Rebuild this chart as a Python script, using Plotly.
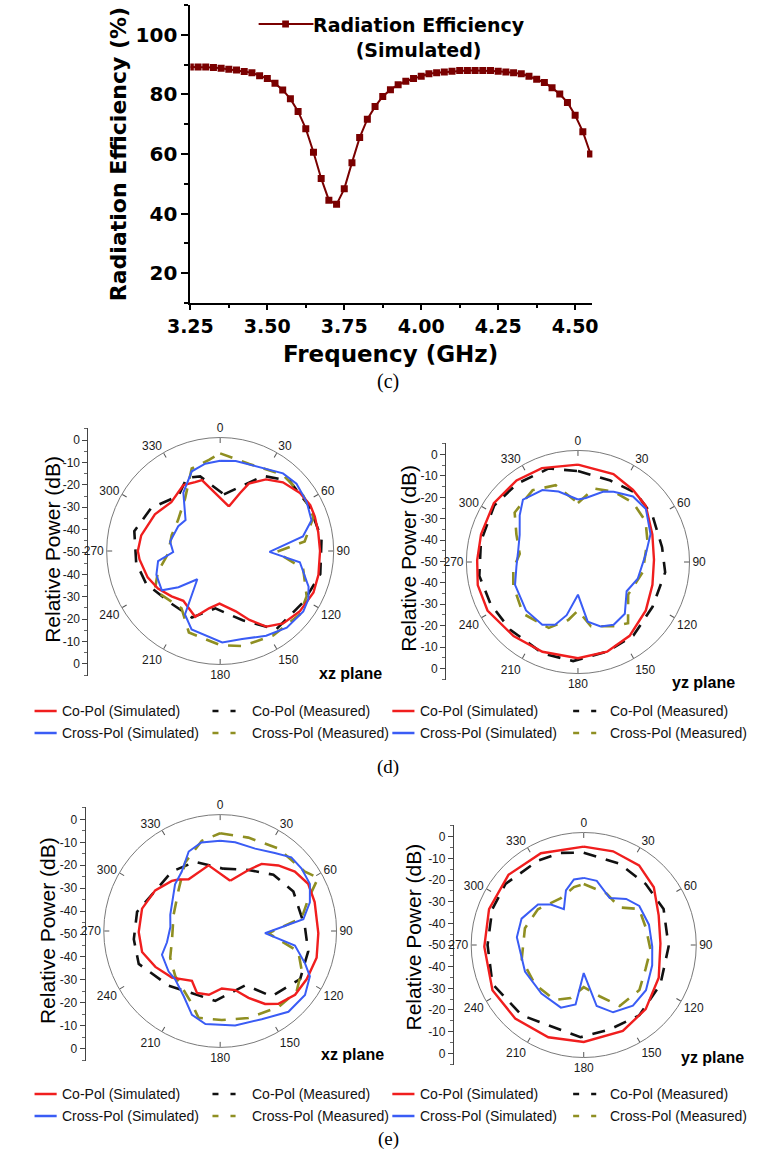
import plotly.graph_objects as go

W, H = 759, 1158

# ---------------- (c) Radiation efficiency ----------------
freq_ghz = [3.25, 3.275, 3.30, 3.325, 3.35, 3.375, 3.40, 3.425, 3.45, 3.475,
            3.50, 3.525, 3.55, 3.575, 3.60, 3.625, 3.65, 3.675, 3.70, 3.725,
            3.75, 3.775, 3.80, 3.825, 3.85, 3.875, 3.90, 3.925, 3.95, 3.975,
            4.00, 4.025, 4.05, 4.075, 4.10, 4.125, 4.15, 4.175, 4.20, 4.225,
            4.25, 4.275, 4.30, 4.325, 4.35, 4.375, 4.40, 4.425, 4.45, 4.475,
            4.50, 4.525, 4.55]
efficiency_pct = [89.2, 89.2, 89.2, 89.0, 88.8, 88.4, 88.2, 87.7, 87.3, 86.3,
                  85.3, 83.7, 81.5, 78.5, 74.3, 68.5, 60.6, 51.8, 44.5, 43.1,
                  48.3, 57.1, 65.5, 71.7, 75.9, 79.3, 81.6, 83.2, 84.4, 85.3,
                  86.1, 86.9, 87.3, 87.5, 87.8, 88.0, 88.0, 88.0, 88.0, 88.0,
                  87.8, 87.5, 87.3, 86.9, 86.1, 85.1, 84.0, 82.2, 80.1, 77.3,
                  73.0, 67.5, 60.0]
x_ticks = [3.25, 3.50, 3.75, 4.00, 4.25, 4.50]
x_ticklabels = ["3.25", "3.50", "3.75", "4.00", "4.25", "4.50"]
y_ticks = [20, 40, 60, 80, 100]

# ---------------- polar patterns (angle deg, dB) ----------------
angle_ticks = [0, 30, 60, 90, 120, 150, 180, 210, 240, 270, 300, 330]
db_scale_pos = [50, 40, 30, 20, 10, 0, -10, -20, -30, -40, -50]
db_scale_lbl = ["0", "-10", "-20", "-30", "-40", "-50", "-40", "-30", "-20", "-10", "0"]

# (d) xz plane
d_xz_cosim_th = [11, 19, 23, 32.6, 42.4, 54, 63, 70, 79, 90, 103.6, 114, 127, 139, 148.6, 157, 165.5,
                 180.7, 191, 200.8, 216.5, 227, 238.9, 250, 264, 270, 281.2, 299.4, 315, 330.8, 340, 345.6]
d_xz_cosim_db = [-28.0, -20.3, -14.5, -8.8, -4.9, -2.2, -1.0, -1.2, -1.6, -1.6, -1.0, -0.5, -1.6, -3.5, -7.1, -13.7, -19.8,
                 -24.5, -21.7, -15.9, -20.0, -17.8, -14.8, -12.6, -10.7, -10.1, -11.0, -13.7, -16.5, -13.4, -14.5, -14.5]
d_xz_comeas_th = [3.8, 30, 44.7, 63.6, 83, 103, 121.6, 144.5, 162, 184.8, 203, 223, 246, 262, 283, 302, 323, 335.5, 345]
d_xz_comeas_db = [-22.5, -8.0, -2.2, -1.6, -0.5, -0.2, -2.7, -3.3, -14.7, -22.1, -15.0, -15.2, -10.8, -8.9, -7.3, -10.6, -16.5, -11.0, -12.6]
d_xz_xsim_th = [0, 9.8, 39, 48.6, 60.4, 71.4, 80, 91, 98, 112, 118.6, 126, 139, 151.5, 166, 178.7, 200, 209, 219, 229,
                236, 249.5, 260.7, 268.7, 280.7, 300.6, 311.8, 327.7, 340.4, 350.3]
d_xz_xsim_db = [-6.3, -5.7, -1.6, -0.7, -1.8, -3.3, -9.3, -26.1, -11.0, -3.8, -1.3, -0.2, -0.8, -3.3, -6.0, -5.7, -9.5, -14.8, -32.4, -23.2,
                -15.9, -17.0, -19.5, -27.2, -25.3, -26.4, -27.5, -16.6, -9.0, -7.1]
d_xz_xmeas_th = [0, 18.5, 39.5, 56.4, 70, 83.6, 91, 102, 117.6, 128.5, 148, 167, 180, 201, 214, 239, 251.5, 267, 288, 306, 326, 341, 353]
d_xz_xmeas_db = [-2.7, -5.5, -2.2, -1.6, -1.9, -8.8, -22.8, -8.9, -2.7, -0.7, -1.7, -2.7, -4.4, -7.7, -16.5, -13.0, -18.2, -24.7, -25.3, -24.7, -19.5, -7.7, -5.5]

# (d) yz plane
d_yz_cosim_th = [0, 22, 37.4, 50.4, 69.7, 88.3, 107, 125.5, 145, 162, 180, 201.6, 221, 241.8, 257, 271, 286, 305, 323, 339]
d_yz_cosim_db = [-2.0, -3.3, -5.3, -6.6, -10.9, -12.5, -11.6, -8.9, -5.6, -3.5, -2.6, -2.4, -1.6, 0.6, 0.7, -0.3, -0.3, 0.6, 0.3, -0.4]
d_yz_comeas_th = [0, 21.7, 40, 58, 80, 96.8, 121, 143, 162, 182.8, 201, 225, 244, 262, 282, 304, 322, 342.7]
d_yz_comeas_db = [-5.2, -6.8, -5.6, -6.7, -7.9, -6.7, -7.1, -4.6, -3.5, -1.1, -1.7, -2.8, -2.2, -0.9, -1.1, -0.2, -1.1, -1.7]
d_yz_xsim_th = [0, 7, 20, 27, 40, 52, 69, 82.8, 105.6, 121, 137.8, 150.4, 160.6, 170.7, 180, 192, 200, 209.6, 227, 250,
                266, 281, 295, 308.7, 318.6, 333.7, 344.6]
d_yz_xsim_db = [-19.2, -18.2, -13.0, -11.1, -7.8, -7.5, -11.7, -16.2, -19.4, -22.0, -15.6, -14.4, -16.3, -20.2, -33.9, -23.2, -17.1, -14.4, -15.0, -17.0,
                -19.6, -20.0, -18.3, -13.2, -9.0, -10.4, -14.0]
d_yz_xmeas_th = [0, 12.4, 27, 42.9, 59, 73, 99, 123, 140.7, 151, 168.6, 180, 189.5, 203.9, 226.8, 250, 263.6, 278, 294, 308, 327.8, 343.8]
d_yz_xmeas_db = [-20.9, -12.9, -11.1, -10.1, -11.1, -14.2, -17.7, -20.5, -11.0, -13.8, -17.7, -26.1, -21.0, -14.5, -12.8, -16.1, -17.9, -21.0, -16.8, -10.4, -8.1, -10.6]

# (e) xz plane
e_xz_cosim_th = [11.3, 24.9, 31.7, 41.6, 51.5, 61.8, 73, 91.3, 105.5, 119, 130.4, 141.4, 148.4, 157, 165.8, 178.4, 190, 200.5,
                 209.5, 226, 241, 255, 269.3, 286, 302, 316, 321, 328.6, 350]
e_xz_cosim_db = [-25.8, -18.2, -12.7, -8.6, -4.9, -2.8, -3.3, -3.6, -2.7, -3.2, -3.5, -5.9, -9.5, -15.7, -21.2, -22.8, -19.4, -18.7,
                 -22.9, -18.3, -15.0, -11.8, -11.5, -11.6, -13.8, -17.1, -18.7, -21.4, -18.5]
e_xz_comeas_th = [2.8, 24.9, 43.4, 61.7, 87.3, 103, 121, 141.7, 155, 184, 223.4, 248, 264.5, 283, 321, 340]
e_xz_comeas_db = [-20.5, -18.2, -13.4, -10.7, -9.9, -7.3, -5.9, -10.7, -21.7, -16.9, -14.5, -8.5, -9.0, -9.7, -13.8, -15.2]
e_xz_xsim_th = [0, 9.6, 23, 35, 44, 52.5, 62.3, 72.3, 82, 92.8, 101, 111, 116.8, 127, 139.8, 154.8, 171, 189, 198.6, 209,
                223, 231.8, 247.8, 258, 274.5, 288, 316, 327, 338.4, 348]
e_xz_xsim_db = [-7.4, -7.5, -7.7, -5.0, -1.6, -1.5, -2.1, -5.5, -10.3, -28.8, -14.0, -7.0, -2.5, 0.2, 0.0, -3.9, -4.8, -5.5, -8.2, -14.6,
                -18.8, -19.0, -20.3, -24.3, -26.4, -25.2, -19.3, -16.6, -9.6, -7.2]
e_xz_xmeas_th = [0, 16.8, 35, 55, 61.5, 70, 81, 92.6, 104.8, 115.6, 128.4, 142.6, 162, 179, 194, 201, 224.8, 241.8, 260, 289, 314.6, 333, 348.5]
e_xz_xmeas_db = [-3.8, -3.9, -2.3, -1.1, 2.7, -5.7, -11.0, -27.2, -11.8, -7.3, -3.9, -4.7, -6.8, -7.9, -7.7, -13.0, -19.9, -23.2, -26.9, -26.7, -22.4, -13.6, -6.5]

# (e) yz plane
e_yz_cosim_th = [0, 17.4, 34.8, 50.5, 68.4, 88.8, 113.6, 136, 155.5, 180, 201, 223, 243.6, 269, 290.8, 313, 335]
e_yz_cosim_db = [-1.9, -2.0, -2.6, -5.6, -10.6, -12.5, -10.0, -6.4, -3.9, -2.6, -1.7, -0.9, -0.2, -1.4, -0.5, 0.3, -0.5]
e_yz_comeas_th = [0, 23.8, 45.5, 65.8, 91, 117, 141.7, 163, 182, 221.4, 246.9, 270, 291.4, 308, 331.6, 346]
e_yz_comeas_db = [-4.9, -6.6, -7.5, -7.2, -8.5, -7.9, -6.2, -6.8, -4.9, -4.2, -1.5, -3.0, -2.0, -1.5, -3.1, -3.6]
e_yz_xsim_th = [0, 11.5, 29, 42.7, 54.9, 72.7, 91.3, 106.5, 126, 141, 156.4, 168, 180, 187.8, 200, 221, 245.7, 276.6, 293,
                311.6, 321, 331, 342, 351.5]
e_yz_xsim_db = [-17.2, -18.0, -23.8, -19.4, -16.8, -16.6, -16.5, -15.1, -12.4, -11.8, -14.1, -19.5, -36.3, -20.7, -17.4, -18.5, -18.5, -17.1, -17.0,
                -20.1, -24.5, -30.0, -21.9, -17.6]
e_yz_xmeas_th = [0, 24, 43.8, 57, 74.5, 94, 110.7, 129, 149.5, 162.4, 180, 193.8, 208, 231.4, 257, 286, 308, 334, 350.4]
e_yz_xmeas_db = [-20.2, -22.5, -24.6, -17.7, -18.5, -17.3, -17.6, -15.0, -15.4, -23.6, -29.4, -23.3, -19.6, -19.4, -18.9, -20.1, -21.6, -24.5, -21.3]

legend_names = ["Co-Pol (Simulated)", "Co-Pol (Measured)", "Cross-Pol (Simulated)", "Cross-Pol (Measured)"]

# ---------------- styling ----------------
C_RED = "#f01e1e"
C_BLUE = "#3a5cf5"
C_OLIVE = "#8f8f22"
C_BLACK = "#111111"
C_DARKRED = "#7a0000"
DASH = "13px,10px"
SANS = "Liberation Sans, Arial, sans-serif"
BOLD = "DejaVu Sans, Arial, sans-serif"
SERIF = "Liberation Serif, Times New Roman, serif"


def px(x):
    return x / W


def py(y):
    return 1 - y / H


fig = go.Figure()

# efficiency curve
fig.add_trace(go.Scatter(
    x=freq_ghz, y=efficiency_pct, mode="lines+markers",
    line=dict(color=C_DARKRED, width=2),
    marker=dict(symbol="square", size=7, color=C_DARKRED),
    showlegend=False, hoverinfo="x+y", xaxis="x", yaxis="y"))


def closed(a):
    return list(a) + [a[0]]


panels = [
    ("polar", [(d_xz_comeas_th, d_xz_comeas_db, C_BLACK, DASH, 2.6),
               (d_xz_xmeas_th, d_xz_xmeas_db, C_OLIVE, DASH, 2.6),
               (d_xz_cosim_th, d_xz_cosim_db, C_RED, "solid", 2.4),
               (d_xz_xsim_th, d_xz_xsim_db, C_BLUE, "solid", 2.0)]),
    ("polar2", [(d_yz_comeas_th, d_yz_comeas_db, C_BLACK, DASH, 2.6),
                (d_yz_xmeas_th, d_yz_xmeas_db, C_OLIVE, DASH, 2.6),
                (d_yz_cosim_th, d_yz_cosim_db, C_RED, "solid", 2.4),
                (d_yz_xsim_th, d_yz_xsim_db, C_BLUE, "solid", 2.0)]),
    ("polar3", [(e_xz_comeas_th, e_xz_comeas_db, C_BLACK, DASH, 2.6),
                (e_xz_xmeas_th, e_xz_xmeas_db, C_OLIVE, DASH, 2.6),
                (e_xz_cosim_th, e_xz_cosim_db, C_RED, "solid", 2.4),
                (e_xz_xsim_th, e_xz_xsim_db, C_BLUE, "solid", 2.0)]),
    ("polar4", [(e_yz_comeas_th, e_yz_comeas_db, C_BLACK, DASH, 2.6),
                (e_yz_xmeas_th, e_yz_xmeas_db, C_OLIVE, DASH, 2.6),
                (e_yz_cosim_th, e_yz_cosim_db, C_RED, "solid", 2.4),
                (e_yz_xsim_th, e_yz_xsim_db, C_BLUE, "solid", 2.0)]),
]
for sub, curves in panels:
    for th, db, col, dash, wd in curves:
        fig.add_trace(go.Scatterpolar(
            theta=closed(th), r=closed(db), mode="lines",
            line=dict(color=col, width=wd, dash=dash),
            subplot=sub, showlegend=False))

# helper (invisible) traces for the left dB scales
for i in range(2, 6):
    fig.add_trace(go.Scatter(x=[0], y=[0], mode="markers", marker=dict(opacity=0),
                             xaxis=f"x{i}", yaxis=f"y{i}", showlegend=False, hoverinfo="skip"))

layout = dict(
    width=W, height=H, margin=dict(l=0, r=0, t=0, b=0),
    paper_bgcolor="white", plot_bgcolor="white", showlegend=False,
    xaxis=dict(domain=[px(174), px(592)], range=[3.25, 4.556], anchor="y",
               tickmode="array", tickvals=x_ticks, ticktext=x_ticklabels,
               ticks="outside", ticklen=5, tickwidth=2, tickcolor="black",
               showline=True, linewidth=2, linecolor="black", showgrid=False, zeroline=False,
               tickfont=dict(family=BOLD, size=19, color="black", weight="bold"),
               minor=dict(ticks="outside", ticklen=3, tickwidth=1.5, tickcolor="black",
                          tick0=3.25, dtick=0.125, showgrid=False)),
    yaxis=dict(domain=[py(303), py(5)], range=[10, 110], anchor="x",
               tickmode="array", tickvals=y_ticks,
               ticks="outside", ticklen=7, tickwidth=2, tickcolor="black",
               showline=True, linewidth=2, linecolor="black", showgrid=False, zeroline=False,
               tickfont=dict(family=BOLD, size=20, color="black", weight="bold"),
               minor=dict(ticks="outside", ticklen=4, tickwidth=1.5, tickcolor="black",
                          tick0=10, dtick=10, showgrid=False)),
)

# polar subplots: (name, cx, cy, R)
polar_geo = [("polar", 205, 551, 118), ("polar2", 577, 562, 116),
             ("polar3", 205, 931, 121), ("polar4", 583, 945, 117)]
for name, cx, cy, R in polar_geo:
    layout[name] = dict(
        domain=dict(x=[px(cx - R), px(cx + R)], y=[py(cy + R), py(cy - R)]),
        bgcolor="white",
        radialaxis=dict(range=[-50, 5], visible=False, showgrid=False),
        angularaxis=dict(rotation=90, direction="clockwise", tickmode="array",
                         tickvals=angle_ticks, ticktext=[str(a) for a in angle_ticks],
                         showgrid=False, showline=True, linecolor="#7a7a7a", linewidth=1,
                         ticks="inside", ticklen=5, tickcolor="#555555",
                         tickfont=dict(family=SANS, size=12, color="#1a1a1a")))

# left dB scales: (index, axis x, top px, bottom px)
scale_geo = [(2, 68, 428, 676), (3, 440, 443, 680), (4, 65, 807, 1061), (5, 448, 825, 1065)]
for i, xl, ytop, ybot in scale_geo:
    layout[f"xaxis{i}"] = dict(domain=[px(xl), px(xl + 2)], visible=False, anchor=f"y{i}", range=[0, 1])
    layout[f"yaxis{i}"] = dict(domain=[py(ybot), py(ytop)], anchor=f"x{i}", range=[-55.4, 55.4],
                               tickmode="array", tickvals=db_scale_pos, ticktext=db_scale_lbl,
                               ticks="outside", ticklen=5, tickwidth=1, tickcolor="#444",
                               showline=True, linewidth=1, linecolor="#444",
                               showgrid=False, zeroline=False,
                               tickfont=dict(family=SANS, size=12, color="#1a1a1a"),
                               minor=dict(ticks="outside", ticklen=3, tickwidth=1, tickcolor="#666",
                                          tick0=5, dtick=10, showgrid=False))

fig.update_layout(**layout)

ann = []
shapes = []


def text(x, y, s, size, family, color="black", bold=False, angle=0, xanchor="center", align="center"):
    ann.append(dict(x=px(x), y=py(y), xref="paper", yref="paper", text=s, showarrow=False,
                    xanchor=xanchor, yanchor="middle", textangle=angle, align=align,
                    font=dict(family=family, size=size, color=color, weight="bold" if bold else "normal")))


# top chart titles / legend
text(100, 154, "Radiation Efficiency (%)", 22, BOLD, bold=True, angle=-90)
text(382, 354, "Frequency (GHz)", 23, BOLD, bold=True)
text(412, 37, "Radiation Efficiency<br>(Simulated)", 19, BOLD, bold=True)
shapes.append(dict(type="line", xref="paper", yref="paper", x0=px(245), x1=px(302), y0=py(24), y1=py(24),
                   line=dict(color=C_DARKRED, width=2)))
shapes.append(dict(type="rect", xref="paper", yref="paper", x0=px(269.5), x1=px(276.5), y0=py(27.5), y1=py(20.5),
                   line=dict(width=0), fillcolor=C_DARKRED))
text(380, 381, "(c)", 20, SERIF)

# polar panel texts
for x, y in [(30, 549), (401, 558), (25, 931), (405, 937)]:
    text(x, y, "Relative Power (dB)", 21, SANS, angle=-90)
for x, y, s in [(340, 673, "xz plane"), (708, 683, "yz plane"), (343, 1054, "xz plane"), (717, 1057, "yz plane")]:
    text(x, y, s, 16, SANS, bold=True)

# bottom legends of (d) and (e)
legend_cols = [(12, C_RED, "solid", C_BLUE, "solid"), (197, C_BLACK, "dash", C_OLIVE, "dash"),
               (384, C_RED, "solid", C_BLUE, "solid"), (572, C_BLACK, "dash", C_OLIVE, "dash")]
text_x = [38, 236, 411, 608]
for row_y, lbl, lbl_y in [((711, 733), "(d)", 767), ((1094, 1116), "(e)", 1139)]:
    for k, (x0, c1, s1, c2, s2) in enumerate(legend_cols):
        for yy, col, sty, name in [(row_y[0], c1, s1, legend_names[(k % 2)]),
                                   (row_y[1], c2, s2, legend_names[2 + (k % 2)])]:
            if sty == "solid":
                shapes.append(dict(type="line", xref="paper", yref="paper", x0=px(x0), x1=px(x0 + 23),
                                   y0=py(yy), y1=py(yy), line=dict(color=col, width=2.5)))
            else:
                shapes.append(dict(type="line", xref="paper", yref="paper", x0=px(x0), x1=px(x0 + 24),
                                   y0=py(yy), y1=py(yy), line=dict(color=col, width=2.5, dash="6px,12px")))
            text(text_x[k], yy, name, 14, SANS, color="#111", xanchor="left")
    text(380, lbl_y, lbl, 19, SERIF)

fig.update_layout(annotations=ann, shapes=shapes)
fig.write_html("out.html", config={"displayModeBar": False},
               post_script="document.body.style.margin='0px';document.body.style.overflow='hidden';")
